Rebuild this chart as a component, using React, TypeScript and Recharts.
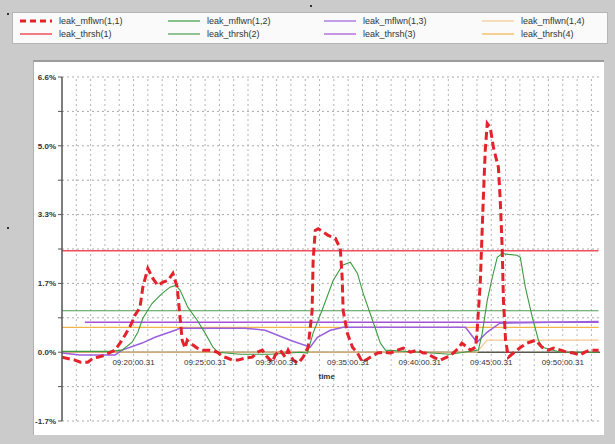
import * as React from "react";
import {
  CartesianGrid,
  ComposedChart,
  Line,
  ReferenceDot,
  ReferenceLine,
  XAxis,
  YAxis,
} from "recharts";

// time axis: minutes after 09:15:00.31, values in percent
const timeDomain: [number, number] = [0, 37.6];
const gridMinutes = Array.from({ length: 38 }, (_, i) => i);
const timeTicks = [5, 10, 15, 20, 25, 30, 35];
const timeLabels = [
  "09:20:00.31",
  "09:25:00.31",
  "09:30:00.31",
  "09:35:00.31",
  "09:40:00.31",
  "09:45:00.31",
  "09:50:00.31",
];

const yTicks = [-1.66, -0.83, 0, 0.83, 1.66, 2.49, 3.32, 4.15, 4.98, 5.81, 6.64];
const yLabels = ["-1.7%", "", "0.0%", "", "1.7%", "", "3.3%", "", "5.0%", "", "6.6%"];

// [minute, %]
const mflwn11: [number, number][] = [
  [0, -0.12], [0.9, -0.19], [1.3, -0.24], [1.8, -0.24], [2.2, -0.14], [2.5, -0.12],
  [3.0, -0.07], [3.4, 0], [3.7, 0.05], [4.1, 0.24], [4.4, 0.41], [4.8, 0.65],
  [5.1, 0.89], [5.45, 1.08], [5.65, 1.57], [6.0, 2.02], [6.35, 1.78], [6.7, 1.61],
  [7.05, 1.69], [7.4, 1.73], [7.75, 1.9], [8.05, 1.57], [8.25, 0.84], [8.4, 0.29],
  [8.6, 0.1], [8.75, 0.29], [8.95, 0.22], [9.45, 0.1], [9.85, 0.05], [10.35, 0.05],
  [10.85, 0], [11.2, -0.1], [11.55, -0.14], [11.9, -0.19], [12.3, -0.19], [12.8, -0.14],
  [13.3, -0.12], [13.65, 0], [14.0, 0.05], [14.35, -0.12], [14.7, -0.24], [14.9, -0.07],
  [15.25, 0.05], [15.6, -0.12], [15.8, 0.05], [16.15, -0.19], [16.5, -0.27], [16.85, -0.12],
  [17.2, 0.12], [17.48, 1.0], [17.55, 2.2], [17.7, 2.94], [17.9, 2.98], [18.25, 2.9],
  [18.6, 2.82], [19.1, 2.75], [19.45, 2.5], [19.58, 1.8], [19.65, 1.0], [19.95, 0.45],
  [20.3, 0.12], [20.65, -0.02], [21.0, -0.24], [21.55, -0.12], [22.05, -0.02], [22.45, 0],
  [22.95, -0.02], [23.45, 0.05], [23.85, 0.1], [24.35, 0], [24.85, 0.05], [25.25, -0.02],
  [25.5, -0.02], [25.95, -0.12], [26.45, -0.19], [26.9, -0.12], [27.35, -0.02], [27.7, 0.1],
  [27.95, 0.22], [28.3, 0.12], [28.55, 0.05], [28.9, 0.12], [29.0, 0.46], [29.23, 1.66],
  [29.44, 3.66], [29.58, 4.87], [29.72, 5.52], [29.93, 5.42], [30.15, 4.94], [30.5, 4.46],
  [30.63, 3.66], [30.77, 2.46], [30.85, 1.25], [31.0, 0.29], [31.2, -0.12], [31.55, -0.02],
  [32.05, 0.12], [32.5, 0.22], [33.1, 0.29], [33.55, 0.12], [34.0, 0.05], [34.35, 0.1],
  [34.85, 0.05], [35.3, 0], [35.75, -0.02], [36.2, -0.07], [36.55, 0], [36.9, 0.05],
  [37.5, 0.05],
];

const mflwn12: [number, number][] = [
  [0, 0.02], [3.4, 0.02], [4.2, 0.05], [4.9, 0.24], [5.3, 0.48], [5.65, 0.82],
  [6.3, 1.18], [7.0, 1.42], [7.55, 1.57], [7.95, 1.61], [8.25, 1.5], [8.8, 1.08],
  [9.45, 0.77], [10.0, 0.46], [10.55, 0.12], [10.9, 0], [12.45, -0.05], [14.55, -0.05],
  [16.65, 0], [17.15, -0.02], [17.55, 0.46], [18.25, 1.08], [18.95, 1.73], [19.6, 2.1],
  [20.15, 2.17], [20.65, 1.9], [21.05, 1.42], [21.7, 0.77], [22.25, 0.22], [22.6, 0.05],
  [25.0, 0], [27.15, -0.05], [29.1, 0.05], [29.37, 0.46], [29.72, 1.25], [30.07, 1.8],
  [30.42, 2.29], [30.77, 2.38], [31.2, 2.36], [31.8, 2.34], [32.03, 2.29], [32.38, 1.57],
  [32.87, 0.84], [33.3, 0.29], [33.57, 0.12], [34.85, 0], [37.5, 0],
];

const mflwn13: [number, number][] = [
  [0, -0.02], [1.25, -0.07], [3.7, -0.07], [4.2, 0.05], [5.6, 0.22], [6.5, 0.36],
  [7.9, 0.53], [8.25, 0.58], [12.8, 0.58], [14.2, 0.53], [15.95, 0.29], [17.35, 0.12],
  [17.85, 0.36], [18.75, 0.53], [19.65, 0.6], [28.2, 0.6], [29.0, 0.24], [29.7, 0.48],
  [30.6, 0.7], [37.5, 0.74],
];

const mflwn14: [number, number][] = [
  [0, 0], [29.0, 0], [29.7, 0.29], [37.5, 0.29],
];

const thrsh1: [number, number][] = [[0, 2.45], [37.5, 2.45]];
const thrsh2: [number, number][] = [[0, 1.0], [37.5, 1.0]];
const thrsh3: [number, number][] = [[1.6, 0.72], [37.5, 0.72]];
const thrsh4: [number, number][] = [[0, 0.6], [37.5, 0.6]];

const toPoints = (arr: [number, number][]) => arr.map(([t, v]) => ({ t, v }));

const RED = "#e4222c";
const RED_T = "#ef4f5a";
const GREEN = "#3c9a40";
const GREEN_T = "#4c9b50";
const PURPLE = "#9b5fe0";
const PURPLE_T = "#a44fd6";
const ORANGE = "#f6c890";
const ORANGE_T = "#f2b448";

const legendItems = [
  { name: "leak_mflwn(1,1)", color: RED, dash: "6 4", width: 3, col: 0, row: 0 },
  { name: "leak_thrsh(1)", color: RED_T, dash: "", width: 1.5, col: 0, row: 1 },
  { name: "leak_mflwn(1,2)", color: GREEN, dash: "", width: 1.2, col: 1, row: 0 },
  { name: "leak_thrsh(2)", color: GREEN_T, dash: "", width: 1.2, col: 1, row: 1 },
  { name: "leak_mflwn(1,3)", color: PURPLE, dash: "", width: 1.2, col: 2, row: 0 },
  { name: "leak_thrsh(3)", color: PURPLE_T, dash: "", width: 1.2, col: 2, row: 1 },
  { name: "leak_mflwn(1,4)", color: ORANGE, dash: "", width: 1.2, col: 3, row: 0 },
  { name: "leak_thrsh(4)", color: ORANGE_T, dash: "", width: 1.2, col: 3, row: 1 },
];
const legendCols = [18, 166, 322, 480];

function LegendBox(): JSX.Element {
  return (
    <div
      style={{
        position: "absolute",
        left: 12,
        top: 12,
        width: 594,
        height: 30,
        background: "#fafafa",
        border: "1px solid #b5b5b5",
      }}
    >
      {legendItems.map((it) => (
        <div
          key={it.name}
          style={{
            position: "absolute",
            left: legendCols[it.col] - 12,
            top: 2 + it.row * 13,
            height: 12,
            display: "flex",
            alignItems: "center",
            fontFamily: "'Liberation Sans', Arial, sans-serif",
            fontSize: 9,
            color: "#333",
            whiteSpace: "nowrap",
          }}
        >
          <svg width={34} height={8} style={{ marginRight: 6 }}>
            <line
              x1={1}
              y1={4}
              x2={33}
              y2={4}
              stroke={it.color}
              strokeWidth={it.width}
              strokeDasharray={it.dash || undefined}
            />
          </svg>
          {it.name}
        </div>
      ))}
    </div>
  );
}

const dotStyle = (left: number, top: number): React.CSSProperties => ({
  position: "absolute",
  left,
  top,
  width: 2,
  height: 2,
  background: "#333",
});

export default function App(): JSX.Element {
  const axisFont = { fontSize: 8, fontWeight: 700, fill: "#333", fontFamily: "'Liberation Sans', Arial, sans-serif" };
  return (
    <div
      style={{
        position: "absolute",
        left: 0,
        top: 0,
        width: 615,
        height: 444,
        background: "#cbcbcb",
        overflow: "hidden",
      }}
    >
      <div style={dotStyle(7, 13)} />
      <div style={dotStyle(310, 5)} />
      <div style={dotStyle(7, 227)} />
      <LegendBox />
      <div
        style={{
          position: "absolute",
          left: 33,
          top: 60,
          width: 570,
          height: 373,
          background: "#ffffff",
          borderTop: "2px solid #9c9c9c",
          borderLeft: "1px solid #b0b0b0",
        }}
      />
      <div style={{ position: "absolute", left: 0, top: 0 }}>
        <ComposedChart
          width={615}
          height={444}
          margin={{ top: 77, right: 15, bottom: 22, left: 33 }}
        >
          <CartesianGrid stroke="#a9a9a9" strokeDasharray="2 3" vertical={false} />
          <XAxis
            dataKey="t"
            type="number"
            domain={timeDomain}
            ticks={gridMinutes}
            tick={false}
            tickLine={false}
            axisLine={false}
            height={1}
            allowDataOverflow
          />
          <YAxis
            type="number"
            domain={[-1.66, 6.64]}
            ticks={yTicks}
            tickFormatter={(v: number) => yLabels[yTicks.indexOf(v)] ?? ""}
            tick={axisFont}
            tickLine={{ stroke: "#555" }}
            tickSize={4}
            axisLine={{ stroke: "#555", strokeWidth: 1.5 }}
            width={29}
            interval={0}
            allowDataOverflow
          />
          {gridMinutes.slice(1).map((m) => (
            <ReferenceLine key={`g${m}`} x={m} stroke="#b4b4b4" strokeDasharray="2 3" />
          ))}
          <ReferenceLine y={0} stroke="#5a5a4a" strokeWidth={1.5} />
          <Line data={toPoints(thrsh4)} dataKey="v" stroke={ORANGE_T} strokeWidth={1.2} dot={false} isAnimationActive={false} />
          <Line data={toPoints(thrsh3)} dataKey="v" stroke={PURPLE_T} strokeWidth={1.5} dot={false} isAnimationActive={false} />
          <Line data={toPoints(thrsh2)} dataKey="v" stroke={GREEN_T} strokeWidth={1.2} dot={false} isAnimationActive={false} />
          <Line data={toPoints(thrsh1)} dataKey="v" stroke={RED_T} strokeWidth={1.5} dot={false} isAnimationActive={false} />
          <Line data={toPoints(mflwn14)} dataKey="v" stroke={ORANGE} strokeWidth={1.2} dot={false} isAnimationActive={false} />
          <Line data={toPoints(mflwn13)} dataKey="v" stroke={PURPLE} strokeWidth={1.5} dot={false} isAnimationActive={false} />
          <Line data={toPoints(mflwn12)} dataKey="v" stroke={GREEN} strokeWidth={1.1} dot={false} isAnimationActive={false} />
          <Line
            data={toPoints(mflwn11)}
            dataKey="v"
            stroke={RED}
            strokeWidth={3}
            strokeDasharray="8 4"
            dot={false}
            isAnimationActive={false}
          />
          {timeTicks.map((t, i) => (
            <ReferenceDot
              key={t}
              x={t}
              y={0}
              r={0}
              fill="none"
              stroke="none"
              label={{ value: timeLabels[i], position: "bottom", offset: 7, ...axisFont, fontWeight: 400 }}
            />
          ))}
          <ReferenceDot
            x={18.5}
            y={0}
            r={0}
            fill="none"
            stroke="none"
            label={{ value: "time", position: "bottom", offset: 21, ...axisFont }}
          />
        </ComposedChart>
      </div>
    </div>
  );
}
